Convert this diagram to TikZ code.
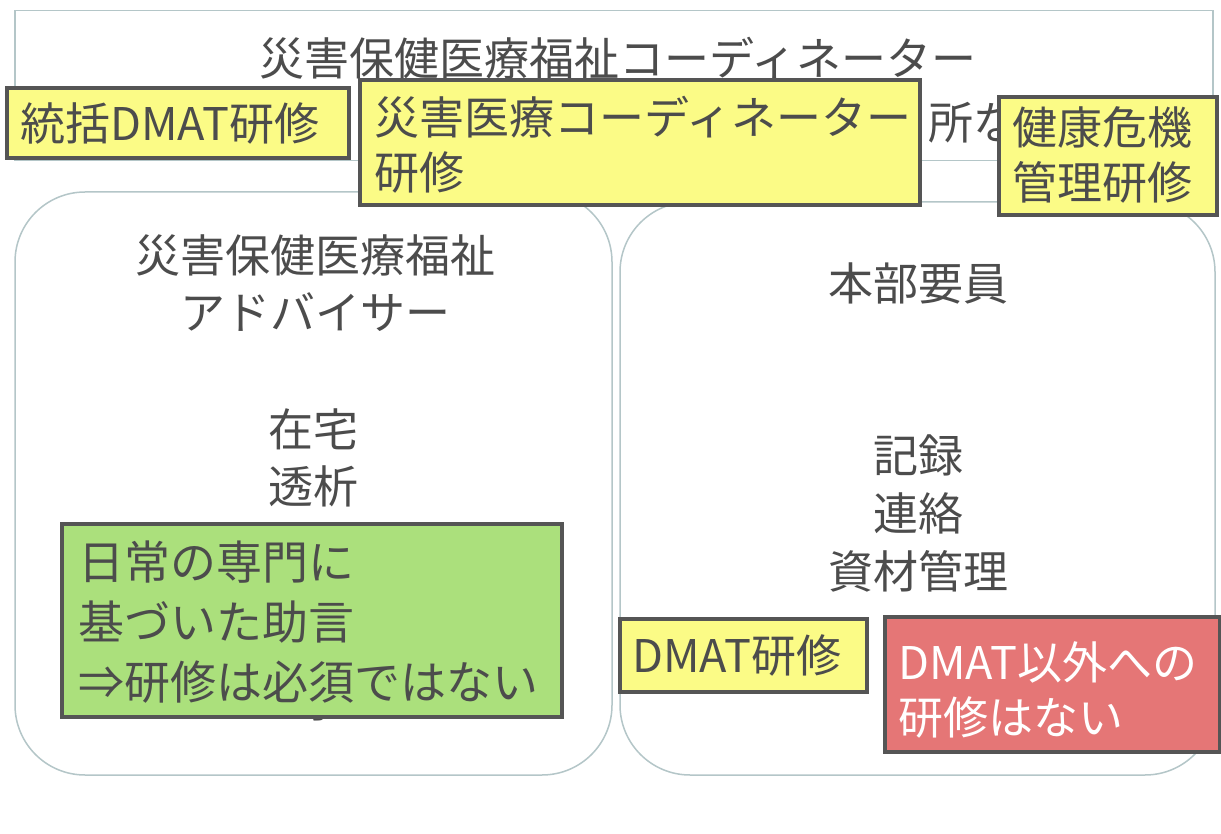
\documentclass[tikz,border=0pt]{standalone}
\usepackage{fontspec}
\setmainfont{Noto Sans CJK JP}
\definecolor{txtgray}{HTML}{4C4C4C}
\definecolor{boxline}{HTML}{555555}
\definecolor{frameline}{HTML}{B4C6C8}
\definecolor{yfill}{HTML}{FBFB86}
\definecolor{gfill}{HTML}{ABE07C}
\definecolor{rfill}{HTML}{E57676}
\tikzset{
  txt/.style={inner sep=0pt, text=txtgray, font=\fontsize{45}{57}\selectfont, align=center},
  btxt/.style={inner sep=0pt, text=txtgray, font=\fontsize{45}{57}\selectfont, align=left, anchor=west},
  frame/.style={draw=frameline, line width=1.5pt},
  tagbox/.style={draw=boxline, line width=4pt, inner sep=0pt, anchor=north west},
  ybox/.style={tagbox, fill=yfill},
  gbox/.style={tagbox, fill=gfill},
  rbox/.style={tagbox, fill=rfill}
}
\begin{document}
\begin{tikzpicture}[x=1pt,y=-1pt]
\useasboundingbox (0,0) rectangle (1221,834);
\fill[white] (0,0) rectangle (1221,834);
% top frame
\node[frame, rectangle, minimum width=1198pt, minimum height=150pt, inner sep=0pt, anchor=north west] (top) at (14,10) {};
\node[txt] (toptitle) at (618,58) {災害保健医療福祉コーディネーター};
\node[txt, anchor=west] (topparen) at (340,122) {（};
\node[txt, anchor=west] (topsho) at (928,122) {所など）};
% lower frames
\draw[frame, rounded corners=70pt] (15,192) rectangle (612,775);
\coordinate (leftframe) at (313,483);
\draw[frame, rounded corners=70pt] (620,202) rectangle (1215,775);
\node[txt] (adv) at (315,283) {災害保健医療福祉\\アドバイサー};
\node[txt] (zaitaku) at (313,458) {在宅\\透析};
\node[txt] (tou) at (313,700) {等};
\node[txt] (honbu) at (918,283) {本部要員};
\node[txt, font=\fontsize{45}{58}\selectfont] (kiroku) at (918,513) {記録\\連絡\\資材管理};
% tag boxes
\node[ybox, minimum width=342pt, minimum height=70pt] (b1) at (5,86) {};
\node[btxt] (t1) at ([xshift=15pt]b1.west) {統括DMAT研修};
\node[ybox, minimum width=560pt, minimum height=125pt] (b2) at (358,78) {};
\node[btxt, font=\fontsize{45}{55}\selectfont] (t2) at ([xshift=16pt,yshift=-2pt]b2.west) {災害医療コーディネーター\\研修};
\node[ybox, minimum width=218pt, minimum height=118pt] (b3) at (997,95) {};
\node[btxt, font=\fontsize{45}{55}\selectfont] (t3) at ([xshift=15pt,yshift=1pt]b3.west) {健康危機\\管理研修};
\node[gbox, minimum width=500pt, minimum height=193pt] (b4) at (60,522) {};
\node[btxt, font=\fontsize{46}{60}\selectfont] (t4) at ([xshift=18pt,yshift=-2pt]b4.west) {日常の専門に\\基づいた助言\\⇒研修は必須ではない};
\node[ybox, minimum width=247pt, minimum height=73pt] (b5) at (618,617) {};
\node[btxt] (t5) at ([xshift=14pt]b5.west) {DMAT研修};
\node[rbox, minimum width=335pt, minimum height=135pt] (b6) at (883,615) {};
\node[btxt, text=white, font=\fontsize{45}{55}\selectfont] (t6) at ([xshift=15pt,yshift=-5pt]b6.west) {DMAT以外への\\研修はない};
\end{tikzpicture}
\end{document}
